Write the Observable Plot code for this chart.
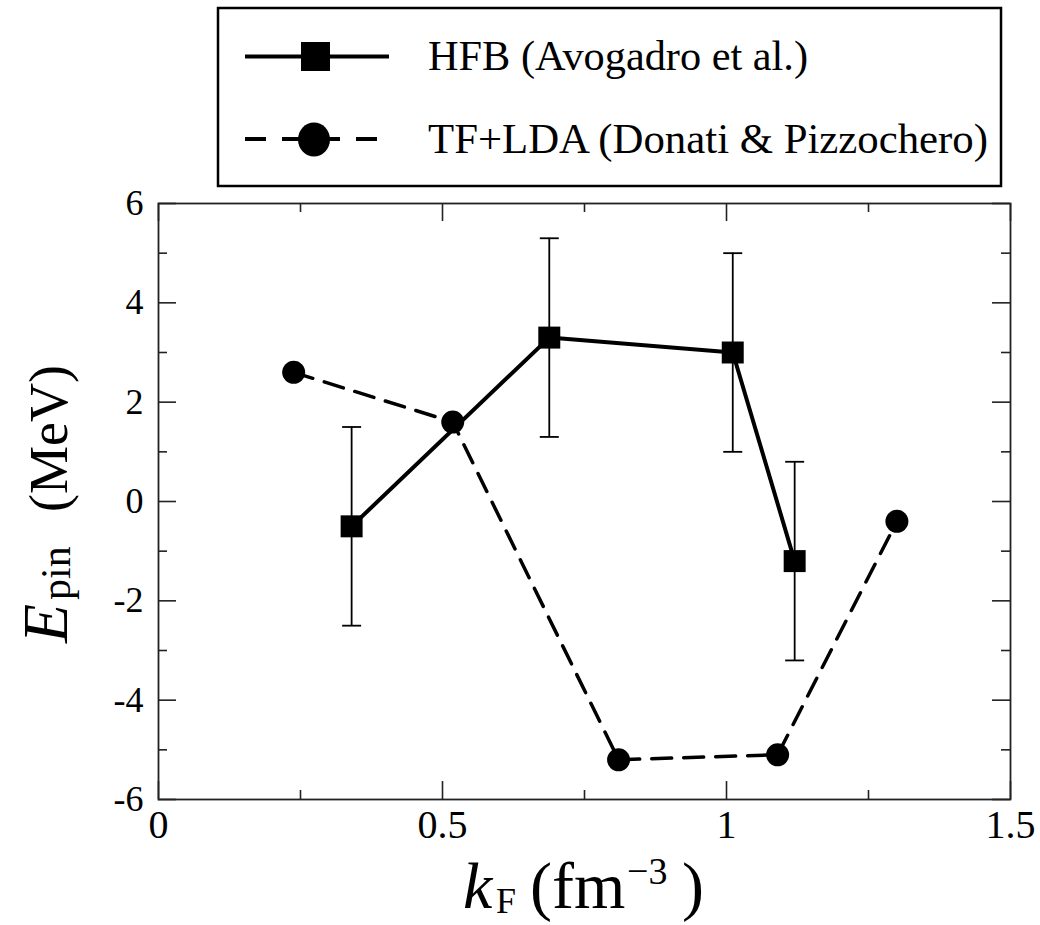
<!DOCTYPE html>
<html>
<head>
<meta charset="utf-8">
<script src="https://cdn.jsdelivr.net/npm/d3@7"></script>
<script src="https://cdn.jsdelivr.net/npm/@observablehq/plot@0.6"></script>
<style>
  body { margin: 0; background: #fff; }
  #chart { position: relative; width: 1040px; height: 925px; overflow: hidden; }
  #plot { position: absolute; left: 0; top: 180px; }
  #legend { position: absolute; left: 0; top: 0; }
  text { font-family: "Liberation Serif", "DejaVu Serif", serif; }
</style>
</head>
<body>
<div id="chart">
  <div id="plot"></div>
  <svg id="legend" width="1040" height="190"></svg>
</div>
<script>
// HFB (Avogadro et al.): pinning energy with its uncertainty
const hfbKF  = [0.34, 0.688, 1.011, 1.12];
const hfbE   = [-0.5, 3.3, 3.0, -1.2];
const hfbErr = [2.0, 2.0, 2.0, 2.0];

// TF+LDA (Donati & Pizzochero)
const tfKF = [0.238, 0.518, 0.81, 1.09, 1.30];
const tfE  = [2.6, 1.6, -5.2, -5.1, -0.4];

// Axis ticks and their labels
const xMajor = [0, 0.5, 1, 1.5];
const xMajorLabels = ["0", "0.5", "1", "1.5"];
const xMinor = [0.25, 0.75, 1.25];
const yMajor = [-6, -4, -2, 0, 2, 4, 6];
const yMajorLabels = ["-6", "-4", "-2", "0", "2", "4", "6"];
const yMinor = [-5, -3, -1, 1, 3, 5];

const seriesNames = ["HFB (Avogadro et al.)", "TF+LDA (Donati & Pizzochero)"];

const hfb = hfbKF.map((k, i) => ({k, e: hfbE[i], lo: hfbE[i] - hfbErr[i], hi: hfbE[i] + hfbErr[i]}));
const tf = tfKF.map((k, i) => ({k, e: tfE[i]}));

const TOP = 180;                       // page offset of the plot svg
const W = 1040, H = 925 - TOP;
const mTop = 23, mBottom = 126, mLeft = 158, mRight = 30;
const innerH = H - mTop - mBottom;
const innerW = W - mLeft - mRight;
const majorLen = 18, minorLen = 9;
const axisStroke = {stroke: "#222", strokeWidth: 1.6};

// horizontal cap for the error bars
const capSymbol = {
  draw(context) { context.moveTo(-9.5, 0); context.lineTo(9.5, 0); }
};

const xFmt = d => xMajorLabels[xMajor.indexOf(d)];
const yFmt = d => yMajorLabels[yMajor.indexOf(d)];

const plot = Plot.plot({
  width: W,
  height: H,
  marginTop: mTop,
  marginBottom: mBottom,
  marginLeft: mLeft,
  marginRight: mRight,
  style: {fontFamily: "Liberation Serif, serif", color: "#000", background: "transparent", overflow: "visible"},
  x: {domain: [0, 1.5]},
  y: {domain: [-6, 6]},
  marks: [
    // inward ticks on all four sides
    Plot.ruleX(xMajor, {x: d => d, insetTop: innerH - majorLen, ...axisStroke}),
    Plot.ruleX(xMajor, {x: d => d, insetBottom: innerH - majorLen, ...axisStroke}),
    Plot.ruleX(xMinor, {x: d => d, insetTop: innerH - minorLen, ...axisStroke}),
    Plot.ruleX(xMinor, {x: d => d, insetBottom: innerH - minorLen, ...axisStroke}),
    Plot.ruleY(yMajor, {y: d => d, insetRight: innerW - majorLen, ...axisStroke}),
    Plot.ruleY(yMajor, {y: d => d, insetLeft: innerW - majorLen, ...axisStroke}),
    Plot.ruleY(yMinor, {y: d => d, insetRight: innerW - minorLen, ...axisStroke}),
    Plot.ruleY(yMinor, {y: d => d, insetLeft: innerW - minorLen, ...axisStroke}),
    Plot.frame({stroke: "#222", strokeWidth: 1.8}),
    Plot.axisX(xMajor, {tickSize: 0, tickPadding: 10, fontSize: 40, tickFormat: xFmt, label: null}),
    Plot.axisY(yMajor, {tickSize: 0, tickPadding: 15, fontSize: 36, tickFormat: yFmt, label: null}),
    // error bars
    Plot.ruleX(hfb, {x: "k", y1: "lo", y2: "hi", stroke: "#000", strokeWidth: 1.8}),
    Plot.dot(hfb, {x: "k", y: "lo", symbol: capSymbol, stroke: "#000", strokeWidth: 1.8, fill: "none"}),
    Plot.dot(hfb, {x: "k", y: "hi", symbol: capSymbol, stroke: "#000", strokeWidth: 1.8, fill: "none"}),
    // series
    Plot.line(tf, {x: "k", y: "e", stroke: "#000", strokeWidth: 3.5, strokeDasharray: "20,12"}),
    Plot.line(hfb, {x: "k", y: "e", stroke: "#000", strokeWidth: 4}),
    Plot.dot(tf, {x: "k", y: "e", r: 11.5, fill: "#000", stroke: "none"}),
    Plot.dot(hfb, {x: "k", y: "e", symbol: "square", r: 12.4, fill: "#000", stroke: "none"})
  ]
});
document.getElementById("plot").appendChild(plot);

// axis titles with sub- and superscripts
const svg = d3.select(plot);
const xBase = 908 - TOP;
const xt = svg.append("text")
  .attr("y", xBase).attr("text-anchor", "start")
  .attr("font-size", 66).attr("fill", "#000");
xt.append("tspan").attr("x", 463).attr("font-style", "italic").text("k");
xt.append("tspan").attr("x", 496).attr("y", xBase + 5).attr("font-size", 36).text("F");
xt.append("tspan").attr("x", 530).attr("y", xBase).text("(fm");
xt.append("tspan").attr("x", 627).attr("y", xBase - 24).attr("font-size", 38).text("\u22123");
xt.append("tspan").attr("x", 682).attr("y", xBase).text(")");

// y title runs bottom-to-top; u is the distance up from its start
const yt = svg.append("text")
  .attr("transform", `translate(67,${643 - TOP}) rotate(-90)`)
  .attr("text-anchor", "start")
  .attr("font-size", 54).attr("fill", "#000");
yt.append("tspan").attr("x", 0).attr("y", 0).attr("font-style", "italic").attr("font-size", 64).text("E");
yt.append("tspan").attr("x", 43).attr("y", 3).attr("font-size", 42).text("pin");
yt.append("tspan").attr("x", 131).attr("y", 0).text("(MeV)");

// legend
const lg = d3.select("#legend");
lg.append("rect").attr("x", 218).attr("y", 8).attr("width", 783).attr("height", 178)
  .attr("fill", "#fff").attr("stroke", "#000").attr("stroke-width", 2.5);
lg.append("line").attr("x1", 245).attr("x2", 389).attr("y1", 56.5).attr("y2", 56.5)
  .attr("stroke", "#000").attr("stroke-width", 4);
lg.append("rect").attr("x", 301).attr("y", 42).attr("width", 29).attr("height", 29).attr("fill", "#000");
lg.append("text").attr("x", 428).attr("y", 70).attr("font-size", 42)
  .attr("textLength", 380).attr("lengthAdjust", "spacingAndGlyphs").text(seriesNames[0]);
lg.append("line").attr("x1", 245).attr("x2", 378).attr("y1", 139).attr("y2", 139)
  .attr("stroke", "#000").attr("stroke-width", 4).attr("stroke-dasharray", "21,16");
lg.append("ellipse").attr("cx", 314).attr("cy", 139.5).attr("rx", 16).attr("ry", 17).attr("fill", "#000");
lg.append("text").attr("x", 428).attr("y", 153).attr("font-size", 42)
  .attr("textLength", 560).attr("lengthAdjust", "spacingAndGlyphs").text(seriesNames[1]);
</script>
</body>
</html>
